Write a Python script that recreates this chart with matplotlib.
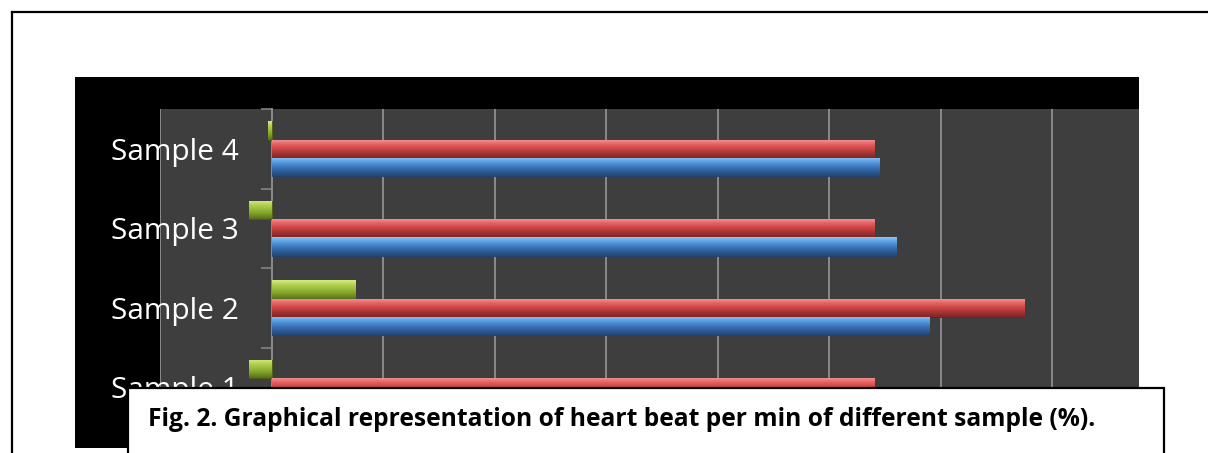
import numpy as np
import matplotlib
matplotlib.use("Agg")
import matplotlib.pyplot as plt
from matplotlib.patches import Rectangle
from matplotlib.lines import Line2D
from matplotlib.colors import LinearSegmentedColormap

# Data: heart beat per min of different samples (%)
categories = ["Sample 1", "Sample 2", "Sample 3", "Sample 4"]
series_blue = [108, 118, 112, 109]
series_red = [108, 135, 108, 108]
series_green = [-4, 15, -4, -0.7]
x_ticks = [-20, 0, 20, 40, 60, 80, 100, 120, 140]
caption = "Fig. 2. Graphical representation of heart beat per min of different sample (%)."

W, H = 1208, 453
DPI = 100
fig = plt.figure(figsize=(W / DPI, H / DPI), dpi=DPI, facecolor="white")


def fx(px):
    return px / W


def fy(py):
    return 1 - py / H


# page frame (left and top rules)
fig.add_artist(Line2D([fx(12), fx(12)], [fy(12), 0], color="black", lw=1.6,
                      transform=fig.transFigure, zorder=0))
fig.add_artist(Line2D([fx(12), 1], [fy(12), fy(12)], color="black", lw=1.6,
                      transform=fig.transFigure, zorder=0))

# black chart area
fig.add_artist(Rectangle((fx(75), fy(448)), fx(1139) - fx(75), fy(77) - fy(448),
                         transform=fig.transFigure, facecolor="black",
                         edgecolor="none", zorder=-1))

# plot area
ax = fig.add_axes([fx(160), fy(427), fx(1139) - fx(160), fy(109) - fy(427)])
ax.set_facecolor("#3e3e3e")

grid_col = "#8a8a8a"
y = np.arange(len(categories))
h = 0.23

gradients = {
    "blue": ["#8cc4f4", "#5c9ee0", "#3f79c2", "#2d5d9a", "#23487a"],
    "red": ["#f49a9a", "#e86464", "#cc4646", "#a83434", "#7e2626"],
    "green": ["#d6ea88", "#b4d050", "#98b83a", "#7a9a26", "#56701a"],
}
edges = {"blue": "#1f3d66", "red": "#5e1c1c", "green": "#44580f"}

for vals, off, key in [(series_blue, -h, "blue"), (series_red, 0.0, "red"),
                       (series_green, h, "green")]:
    bars = ax.barh(y + off, vals, height=h, color=gradients[key][2],
                   edgecolor=edges[key], linewidth=0.6, zorder=3)
    cmap = LinearSegmentedColormap.from_list(key, gradients[key])
    grad = np.linspace(0, 1, 64).reshape(-1, 1)
    for b in bars:
        x0, yb = b.get_x(), b.get_y()
        bw, bh = b.get_width(), b.get_height()
        xa, xb = min(x0, x0 + bw), max(x0, x0 + bw)
        im = ax.imshow(grad, cmap=cmap, aspect="auto",
                       extent=(xa, xb, yb, yb + bh), origin="upper",
                       zorder=3.5, interpolation="bilinear")
        im.set_clip_path(b)

ax.set_xlim(-20, 155.6)
ax.set_ylim(-0.5, 3.5)

ax.set_xticks(x_ticks)
ax.tick_params(axis="x", bottom=False, labelbottom=False)
ax.grid(axis="x", color=grid_col, lw=1.4, zorder=1)

for s in ["top", "right", "bottom"]:
    ax.spines[s].set_visible(False)
ax.spines["left"].set_position(("data", 0))
ax.spines["left"].set_color(grid_col)
ax.spines["left"].set_linewidth(1.4)
ax.spines["left"].set_zorder(2)

ax.set_yticks(np.arange(-0.5, len(categories), 1.0))
ax.set_yticklabels([])
ax.tick_params(axis="y", which="major", direction="out", length=7.9,
               width=1.1, color=grid_col)
ax.set_yticks(y, minor=True)
ax.set_yticklabels(categories, minor=True, fontsize=21.5,
                   family="Open Sans", color="white")
ax.tick_params(axis="y", which="minor", length=0, pad=23.8)
for t in ax.get_yticklabels(minor=True):
    t.set_clip_on(False)

# caption box
fig.add_artist(Rectangle((fx(128), -0.05), fx(1164) - fx(128), fy(388) + 0.05,
                         transform=fig.transFigure, facecolor="white",
                         edgecolor="black", lw=1.6, zorder=5))
fig.text(fx(148), fy(426), caption, fontsize=17.7, fontweight="bold",
         family="Open Sans", color="black", ha="left", va="baseline", zorder=6)

fig.savefig("out.png", dpi=DPI, facecolor="white")
